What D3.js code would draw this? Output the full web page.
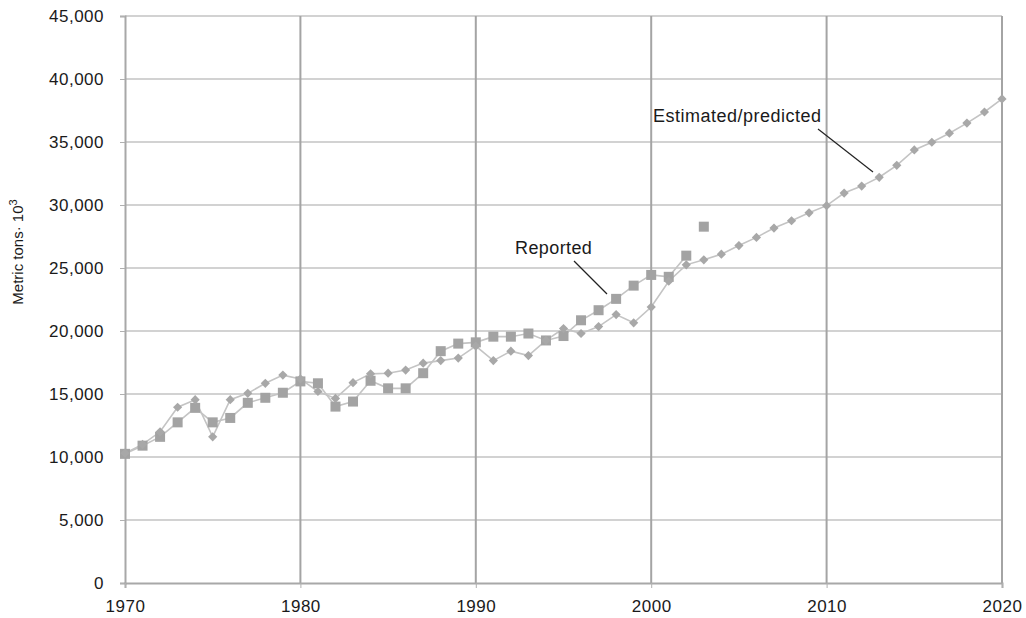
<!DOCTYPE html>
<html>
<head>
<meta charset="utf-8">
<script src="https://cdn.jsdelivr.net/npm/d3@7"></script>
<style>
  html, body { margin: 0; padding: 0; background: #fff; }
  svg { display: block; font-family: "Liberation Sans", Arial, sans-serif; }
</style>
</head>
<body>
<svg id="chart" width="1026" height="618"></svg>
<script>
// Reported consumption, 1970–2002 (connected series)
const reportedYears = d3.range(1970, 2003);
const reportedValues = [
  10250, 10900, 11600, 12750, 13900, 12750, 13100, 14300, 14700, 15100,
  16000, 15850, 14000, 14400, 16050, 15450, 15450, 16650, 18400, 19000,
  19100, 19550, 19550, 19800, 19250, 19600, 20850, 21650, 22550, 23600,
  24450, 24300, 25980
];
// Latest reported figure, shown on its own
const reportedLatestYear = [2003];
const reportedLatestValue = [28280];

// Estimated / predicted series, 1970–2020
const estimatedYears = d3.range(1970, 2021);
const estimatedValues = [
  10300, 11000, 12000, 13950, 14550, 11600, 14550, 15050, 15850, 16500,
  16200, 15200, 14650, 15900, 16600, 16650, 16900, 17450, 17650, 17850,
  18800, 17650, 18400, 18050, 19250, 20200, 19800, 20350, 21300, 20650,
  21900, 23950, 25250, 25650, 26100, 26780, 27430, 28170, 28750, 29380,
  29950, 30950, 31500, 32200, 33150, 34370, 34980, 35700, 36500, 37380,
  38420
];

const yTicks = [0, 5000, 10000, 15000, 20000, 25000, 30000, 35000, 40000, 45000];
const xTicks = [1970, 1980, 1990, 2000, 2010, 2020];

const margin = { left: 125, right: 24, top: 16, bottom: 35 };
const W = 1026, H = 618;
const svg = d3.select("#chart");

const x = d3.scaleLinear().domain([1970, 2020]).range([margin.left, W - margin.right]);
const y = d3.scaleLinear().domain([0, 45000]).range([H - margin.bottom, margin.top]);

const fmt = d3.format(",");
const labelFont = "'Liberation Sans', Arial, sans-serif";

// horizontal grid
svg.append("g")
  .selectAll("line")
  .data(yTicks.filter(d => d > 0))
  .join("line")
  .attr("x1", x(1970)).attr("x2", x(2020))
  .attr("y1", d => y(d)).attr("y2", d => y(d))
  .attr("stroke", "#d2d2d2").attr("stroke-width", 2);

// vertical grid at each decade
svg.append("g")
  .selectAll("line")
  .data(xTicks.filter(d => d > 1970))
  .join("line")
  .attr("x1", d => x(d)).attr("x2", d => x(d))
  .attr("y1", y(45000)).attr("y2", y(0))
  .attr("stroke", "#a4a4a4").attr("stroke-width", 2);

// y axis
const yAxis = svg.append("g")
  .attr("transform", `translate(${x(1970)},0)`)
  .call(d3.axisLeft(y).tickValues(yTicks).tickFormat(fmt).tickSize(5).tickPadding(16));
yAxis.select(".domain").attr("stroke", "#a8a8a8").attr("stroke-width", 2);
yAxis.selectAll(".tick line").attr("stroke", "#b0b0b0");
yAxis.selectAll(".tick text")
  .attr("fill", "#1a1a1a")
  .style("font-size", "17px")
  .style("letter-spacing", "0.5px")
  .style("font-family", labelFont);

// x axis
const xAxis = svg.append("g")
  .attr("transform", `translate(0,${y(0)})`)
  .call(d3.axisBottom(x).tickValues(xTicks).tickFormat(d3.format("d")).tickSize(5).tickPadding(12));
xAxis.select(".domain").attr("stroke", "#a8a8a8").attr("stroke-width", 2);
xAxis.selectAll(".tick line").attr("stroke", "#b0b0b0");
xAxis.selectAll(".tick text")
  .attr("fill", "#1a1a1a")
  .style("font-size", "17px")
  .style("letter-spacing", "0.5px")
  .style("font-family", labelFont);

// y axis title
const yTitle = svg.append("text")
  .attr("transform", `translate(23,${252}) rotate(-90)`)
  .attr("text-anchor", "middle")
  .attr("fill", "#1a1a1a")
  .style("font-size", "15px");
yTitle.append("tspan").text("Metric tons· 10");
yTitle.append("tspan").attr("baseline-shift", "super").style("font-size", "11px").text("3");

const estimated = estimatedYears.map((yr, i) => ({ yr, v: estimatedValues[i] }));
const reported = reportedYears.map((yr, i) => ({ yr, v: reportedValues[i] }));
const reportedLatest = reportedLatestYear.map((yr, i) => ({ yr, v: reportedLatestValue[i] }));

const line = d3.line().x(d => x(d.yr)).y(d => y(d.v));

// series lines
svg.append("path").datum(estimated)
  .attr("d", line).attr("fill", "none")
  .attr("stroke", "#c4c4c4").attr("stroke-width", 1.6);
svg.append("path").datum(reported)
  .attr("d", line).attr("fill", "none")
  .attr("stroke", "#c4c4c4").attr("stroke-width", 1.6);

// square markers (reported)
const sq = 10;
svg.append("g")
  .selectAll("rect")
  .data(reported.concat(reportedLatest))
  .join("rect")
  .attr("x", d => x(d.yr) - sq / 2).attr("y", d => y(d.v) - sq / 2)
  .attr("width", sq).attr("height", sq)
  .attr("fill", "#a3a3a3");

// diamond markers (estimated): squares turned 45°
const dm = 6.5;
svg.append("g")
  .selectAll("rect")
  .data(estimated)
  .join("rect")
  .attr("x", -dm / 2).attr("y", -dm / 2)
  .attr("width", dm).attr("height", dm)
  .attr("transform", d => `translate(${x(d.yr)},${y(d.v)}) rotate(45)`)
  .attr("fill", "#a8a8a8");

// annotations
svg.append("text")
  .attr("x", 515).attr("y", 254)
  .attr("fill", "#1a1a1a").style("font-size", "18px").style("letter-spacing", "0.4px")
  .text("Reported");
svg.append("line")
  .attr("x1", 574).attr("y1", 261).attr("x2", 607).attr("y2", 294)
  .attr("stroke", "#222").attr("stroke-width", 1.2);

svg.append("text")
  .attr("x", 653).attr("y", 122)
  .attr("fill", "#1a1a1a").style("font-size", "18px").style("letter-spacing", "0.5px")
  .text("Estimated/predicted");
svg.append("line")
  .attr("x1", 818).attr("y1", 129).attr("x2", 873).attr("y2", 172)
  .attr("stroke", "#222").attr("stroke-width", 1.2);
</script>
</body>
</html>
